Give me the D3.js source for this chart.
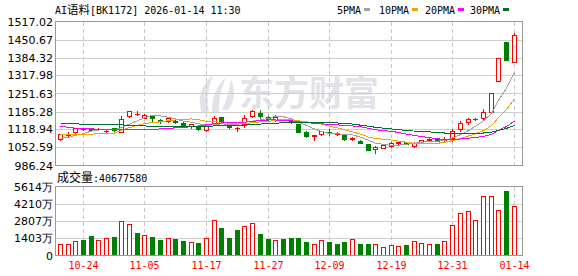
<!DOCTYPE html>
<html>
<head>
<meta charset="utf-8">
<script src="https://cdn.jsdelivr.net/npm/d3@7"></script>
<style>
  html, body { margin: 0; padding: 0; background: #fff; }
  svg { display: block; }
</style>
</head>
<body>
<div id="chart"></div>
<script>
// trading days (MM-DD)
var dates = [
  "10-21","10-22","10-23","10-24","10-27","10-28","10-29","10-30","10-31","11-03",
  "11-04","11-05","11-06","11-07","11-10","11-11","11-12","11-13","11-14","11-17",
  "11-18","11-19","11-20","11-21","11-24","11-25","11-26","11-27","11-28","12-01",
  "12-02","12-03","12-04","12-05","12-08","12-09","12-10","12-11","12-12","12-15",
  "12-16","12-17","12-18","12-19","12-22","12-23","12-24","12-25","12-26","12-29",
  "12-30","12-31","01-05","01-06","01-07","01-08","01-09","01-12","01-13","01-14"
];
var xTickLabels = ["10-24","11-05","11-17","11-27","12-09","12-19","12-31","01-14"];

var open = [
  1083,1100,1108,1124,1123,1120,1112,1123,1110,1169,
  1176,1162,1168,1153,1150,1151,1144,1132,1129,1117,
  1141,1164,1147,1124,1141,1168,1181,1165,1154,1158,
  1154,1139,1110,1094,1102,1109,1104,1101,1083,1078,
  1065,1046,1051,1058,1069,1072,1059,1070,1082,1083,
  1081,1086,1122,1146,1157,1160,1184,1299,1440,1368
];
var high = [
  1103,1109,1125,1126,1126,1124,1118,1125,1169,1188,
  1187,1177,1173,1156,1162,1154,1145,1141,1130,1134,
  1168,1166,1148,1129,1172,1192,1192,1168,1172,1159,
  1155,1140,1112,1099,1114,1120,1109,1102,1090,1082,
  1066,1058,1064,1073,1078,1073,1074,1081,1088,1085,
  1090,1121,1150,1160,1161,1193,1254,1384,1441,1474
];
var low = [
  1081,1096,1099,1117,1116,1118,1108,1114,1108,1166,
  1172,1160,1150,1144,1148,1144,1130,1125,1118,1115,
  1139,1143,1126,1112,1127,1166,1160,1155,1152,1153,
  1143,1108,1090,1082,1100,1100,1100,1081,1082,1068,
  1042,1034,1049,1056,1066,1064,1055,1069,1079,1076,
  1077,1077,1113,1140,1154,1154,1182,1298,1374,1366
];
var close = [
  1101,1102,1123,1119,1118,1122,1115,1116,1157,1187,
  1176,1172,1160,1149,1160,1148,1132,1140,1120,1132,
  1162,1145,1128,1124,1162,1187,1168,1157,1164,1156,
  1145,1111,1095,1098,1112,1106,1104,1083,1089,1071,
  1044,1056,1061,1068,1074,1066,1070,1080,1084,1078,
  1083,1114,1142,1156,1159,1183,1252,1383,1376,1468
];

// moving averages
var ma5 = [
  1086,1090,1097,1104,1113,1117,1119,1118,1126,1139,
  1151,1162,1171,1169,1164,1158,1150,1146,1140,1134,
  1137,1140,1137,1139,1145,1150,1154,1160,1168,1166,
  1158,1147,1134,1121,1112,1104,1103,1101,1099,1091,
  1079,1069,1064,1060,1061,1065,1068,1072,1075,1076,
  1079,1088,1100,1115,1131,1151,1178,1227,1271,1332
];
var ma10 = [
  1099,1100,1101,1101,1102,1103,1104,1106,1116,1126,
  1134,1141,1144,1147,1152,1154,1156,1158,1155,1149,
  1148,1145,1142,1139,1140,1144,1147,1149,1153,1156,
  1154,1151,1147,1144,1139,1131,1125,1118,1110,1102,
  1091,1086,1083,1080,1076,1072,1068,1068,1067,1068,
  1072,1078,1086,1095,1103,1115,1133,1163,1193,1232
];
var ma20 = [
  1131,1127,1124,1122,1121,1120,1120,1120,1120,1120,
  1120,1120,1120,1121,1123,1125,1127,1129,1132,1136,
  1141,1143,1143,1143,1146,1149,1152,1154,1154,1152,
  1151,1148,1144,1142,1140,1137,1136,1133,1132,1129,
  1123,1118,1115,1112,1108,1102,1097,1093,1089,1085,
  1082,1082,1084,1087,1090,1093,1101,1116,1130,1150
];
var ma30 = [
  1141,1141,1140,1138,1138,1138,1137,1137,1136,1134,
  1133,1132,1131,1130,1130,1130,1130,1130,1130,1131,
  1132,1133,1134,1135,1135,1137,1139,1141,1142,1144,
  1145,1145,1144,1144,1144,1143,1143,1142,1139,1135,
  1131,1127,1124,1121,1118,1116,1113,1111,1110,1108,
  1106,1105,1105,1106,1106,1106,1109,1116,1123,1134
];

// volume, shares
var volume = [
  9520000,8950000,11400000,12210000,15470000,12210000,14380000,14650000,28220000,25230000,
  18180000,16280000,14650000,12210000,14380000,13020000,11400000,10580000,9770000,14380000,
  29030000,21980000,13840000,20350000,24150000,26050000,17090000,13020000,12210000,13020000,
  13840000,13840000,10850000,8950000,12210000,10850000,9220000,10580000,13020000,9220000,
  8950000,8950000,7060000,8140000,7330000,8140000,11400000,9770000,8950000,8950000,
  11400000,24420000,34190000,35820000,29030000,48030000,48030000,36630000,52100000,40677580
];

var priceTicks = [1517.02,1450.67,1384.32,1317.98,1251.63,1185.28,1118.94,1052.59,986.24];
var volumeTicks = [56140000,42105000,28070000,14035000,0];
var maNames = ["5PMA","10PMA","20PMA","30PMA"];
var title = "AI语料[BK1172] 2026-01-14 11:30";

var maColors = ["#a0a0a0","#f5a300","#ff00ff","#006f30"];
var UP = "#ff0000", DOWN = "#008000";
var MONO = "'DejaVu Sans Mono','Liberation Mono',monospace";
var CJK = "'Noto Sans CJK SC',sans-serif";
var LABEL = "'DejaVu Sans',sans-serif";

var width = 578, height = 276;
var svg = d3.select("#chart").append("svg")
    .attr("width", width)
    .attr("height", height);

var x = d3.scaleBand().domain(dates).range([56, 517.5]);
function cx(i) { return Math.round(x(dates[i]) + x.bandwidth() / 2); }

var y = d3.scaleLinear().domain([986.24, 1517.02]).range([165.5, 21.5]);
var yv = d3.scaleLinear().domain([0, 56140000]).range([255.5, 186.5]);

// watermark
var wm = svg.append("g").attr("fill", "#e2e2e8");
wm.append("path").attr("d", "M202,113 Q194,92 213,75 Q205,95 209,113 Z");
wm.append("path").attr("d", "M212,112 Q211,92 226,77 Q218,96 219,112 Z");
wm.append("path").attr("d", "M222,110 Q229,95 231,79 Q238,97 228,110 Z");
wm.append("text")
    .attr("x", 239).attr("y", 106)
    .attr("font-family", CJK).attr("font-weight", "bold")
    .attr("font-size", 35)
    .text("东方财富");

// grids
var grid = svg.append("g").attr("shape-rendering", "crispEdges");
grid.selectAll(".hp").data(priceTicks.slice(1, -1)).enter().append("line")
    .attr("x1", 56).attr("x2", 522)
    .attr("y1", function(d) { return Math.round(y(d)) + 0.5; })
    .attr("y2", function(d) { return Math.round(y(d)) + 0.5; })
    .attr("stroke", "#cfcfcf");
grid.selectAll(".hv").data(volumeTicks.slice(1, -1)).enter().append("line")
    .attr("x1", 56).attr("x2", 522)
    .attr("y1", function(d) { return Math.round(yv(d)) + 0.5; })
    .attr("y2", function(d) { return Math.round(yv(d)) + 0.5; })
    .attr("stroke", "#cfcfcf");
xTickLabels.forEach(function(t) {
    var px = cx(dates.indexOf(t)) + 0.5;
    [[22, 165], [187, 255]].forEach(function(r) {
        grid.append("line")
            .attr("x1", px).attr("x2", px)
            .attr("y1", r[0]).attr("y2", r[1])
            .attr("stroke", "#c8c8c8")
            .attr("stroke-dasharray", "4,3");
    });
});

// candles
var idx = d3.range(dates.length);
var cg = svg.append("g").attr("shape-rendering", "crispEdges");
idx.forEach(function(i) {
    var c = cx(i), up = close[i] >= open[i];
    var top = Math.round(y(Math.max(open[i], close[i])));
    var bot = Math.round(y(Math.min(open[i], close[i])));
    var hi = Math.round(y(high[i])), lo = Math.round(y(low[i]));
    var col = up ? UP : DOWN;
    if (bot - top < 1) {
        cg.append("line").attr("x1", c + 0.5).attr("x2", c + 0.5)
            .attr("y1", hi).attr("y2", lo + 1).attr("stroke", col);
        cg.append("line").attr("x1", c - 2).attr("x2", c + 3)
            .attr("y1", top + 0.5).attr("y2", top + 0.5).attr("stroke", col);
    } else if (up) {
        cg.append("line").attr("x1", c + 0.5).attr("x2", c + 0.5)
            .attr("y1", hi).attr("y2", top).attr("stroke", col);
        cg.append("line").attr("x1", c + 0.5).attr("x2", c + 0.5)
            .attr("y1", bot + 1).attr("y2", lo + 1).attr("stroke", col);
        cg.append("rect").attr("x", c - 1.5).attr("y", top + 0.5)
            .attr("width", 4).attr("height", bot - top)
            .attr("fill", "#fff").attr("stroke", col);
    } else {
        cg.append("line").attr("x1", c + 0.5).attr("x2", c + 0.5)
            .attr("y1", hi).attr("y2", lo + 1).attr("stroke", col);
        cg.append("rect").attr("x", c - 2).attr("y", top)
            .attr("width", 5).attr("height", bot - top + 1)
            .attr("fill", col);
    }
});

// moving averages
[ma5, ma10, ma20, ma30].forEach(function(s, k) {
    var line = d3.line()
        .x(function(d, i) { return cx(i) + 0.5; })
        .y(function(d) { return y(d); });
    svg.append("path")
        .datum(s)
        .attr("d", line)
        .attr("fill", "none")
        .attr("stroke", maColors[k])
        .attr("stroke-width", 1)
        .attr("shape-rendering", "crispEdges");
});

// volume bars: red when up, green when down, flat days against previous close
function volUp(i) {
    if (close[i] !== open[i]) return close[i] > open[i];
    return i === 0 || close[i] >= close[i - 1];
}
var vg = svg.append("g").attr("shape-rendering", "crispEdges");
idx.forEach(function(i) {
    var c = cx(i), top = Math.round(yv(volume[i]));
    if (volUp(i)) {
        vg.append("rect").attr("x", c - 1.5).attr("y", top + 0.5)
            .attr("width", 4).attr("height", 255 - top)
            .attr("fill", "#fff").attr("stroke", UP);
    } else {
        vg.append("rect").attr("x", c - 2).attr("y", top)
            .attr("width", 5).attr("height", 256 - top)
            .attr("fill", DOWN);
    }
});

// frames
svg.append("rect").attr("x", 55.5).attr("y", 21.5).attr("width", 467).attr("height", 144)
    .attr("fill", "none").attr("stroke", "#999").attr("shape-rendering", "crispEdges");
svg.append("rect").attr("x", 55.5).attr("y", 186.5).attr("width", 467).attr("height", 69)
    .attr("fill", "none").attr("stroke", "#999").attr("shape-rendering", "crispEdges");

// price labels
svg.selectAll(".pl").data(priceTicks).enter().append("text")
    .attr("x", 53).attr("y", function(d) { return y(d) + 4; })
    .attr("text-anchor", "end")
    .attr("font-family", LABEL).attr("font-size", 11).attr("fill", "#000")
    .text(function(d) { return d.toFixed(2); });

// volume labels (万)
svg.selectAll(".vl").data(volumeTicks).enter().append("text")
    .attr("x", 53).attr("y", function(d) { return yv(d) + 4; })
    .attr("text-anchor", "end")
    .attr("font-family", LABEL).attr("font-size", 11).attr("fill", "#000")
    .text(function(d) { return d === 0 ? "0" : Math.floor(d / 10000) + "万"; });

// date labels
svg.selectAll(".xl").data(xTickLabels).enter().append("text")
    .attr("x", function(d) { return cx(dates.indexOf(d)) + 0.5; })
    .attr("y", 269)
    .attr("text-anchor", "middle")
    .attr("font-family", MONO).attr("font-size", 10).attr("fill", UP)
    .text(function(d) { return d; });

// title
var tt = svg.append("text").attr("x", 55).attr("y", 14)
    .attr("font-family", MONO).attr("font-size", 10).attr("fill", "#000");
tt.append("tspan").text(title.slice(0, 2));
tt.append("tspan").attr("font-family", CJK).attr("font-size", 11.5).text(title.slice(2, 4));
tt.append("tspan").text(title.slice(4));

// legend
var legendX = [337, 379, 425, 470];
maNames.forEach(function(n, k) {
    svg.append("text").attr("x", legendX[k]).attr("y", 14)
        .attr("font-family", MONO).attr("font-size", 10).attr("fill", "#000")
        .text(n);
    svg.append("rect").attr("x", legendX[k] + n.length * 6 + 3).attr("y", 8)
        .attr("width", 6).attr("height", 3).attr("fill", maColors[k]);
});

// volume caption
var vt = svg.append("text").attr("x", 57).attr("y", 182)
    .attr("font-family", MONO).attr("font-size", 10).attr("fill", "#000");
vt.append("tspan").attr("font-family", CJK).attr("font-size", 12).text("成交量");
vt.append("tspan").text(":" + volume[volume.length - 1]);
</script>
</body>
</html>
